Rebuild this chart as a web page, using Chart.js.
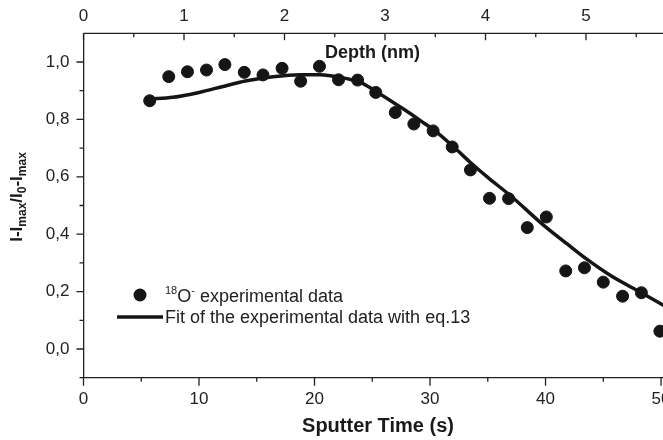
<!DOCTYPE html>
<html lang="en">

<head>
    <meta charset="UTF-8">
    <script src="https://cdn.jsdelivr.net/npm/chart.js"></script>
    <style>
        body { margin: 0; background: #fff; }
    </style>
</head>

<body>
    <canvas id="depthChart" width="663" height="440"></canvas>

    <script>
        // measured points (sputter time in s, normalised intensity)
        const timeData = [5.73, 7.38, 9.0, 10.65, 12.24, 13.92, 15.54, 17.19, 18.8, 20.43, 22.08, 23.73, 25.3, 26.99,
            28.6, 30.27, 31.92, 33.5, 35.15, 36.8, 38.42, 40.07, 41.75, 43.37, 45.0, 46.67, 48.3, 49.9];
        const o18Data = [0.865, 0.949, 0.966, 0.972, 0.991, 0.964, 0.955, 0.978, 0.933, 0.985, 0.938, 0.937, 0.894, 0.824,
            0.784, 0.760, 0.704, 0.624, 0.525, 0.524, 0.423, 0.460, 0.272, 0.283, 0.233, 0.184, 0.196, 0.062];

        // fit curve (eq.13)
        const fitTime = [5.73, 7.75, 10, 12, 14, 16.4, 18.75, 20.5, 22.2, 24, 25.7, 27.7, 29.2, 30.6, 32.1, 33.5, 35,
            37, 39.9, 41.9, 43.6, 45.7, 48.3, 50.3];
        const fitValue = [0.871, 0.877, 0.894, 0.914, 0.934, 0.949, 0.956, 0.956, 0.947, 0.928, 0.888, 0.836, 0.795,
            0.755, 0.702, 0.650, 0.598, 0.533, 0.429, 0.365, 0.312, 0.254, 0.196, 0.150];

        const timeTicks = [0, 10, 20, 30, 40, 50];
        const timeMinor = [5, 15, 25, 35, 45];
        const depthTicks = [0, 1, 2, 3, 4, 5];
        const depthMinor = [0.5, 1.5, 2.5, 3.5, 4.5, 5.5];
        const yTicks = [0, 0.2, 0.4, 0.6, 0.8, 1.0];
        const yMinor = [-0.1, 0.1, 0.3, 0.5, 0.7, 0.9];

        const FONT = "'Liberation Sans', Arial, sans-serif";
        const INK = '#151515';
        Chart.defaults.font.family = FONT;
        Chart.defaults.color = '#222';

        // tick marks, top frame line, axis titles and the legend are drawn by hand
        const decorations = {
            id: 'decorations',
            afterDraw(chart) {
                const c = chart.ctx;
                const a = chart.chartArea;
                const sx = chart.scales.x, st = chart.scales.xTop, sy = chart.scales.y;
                c.save();
                c.strokeStyle = '#222';
                c.lineWidth = 1.3;
                c.beginPath();
                c.moveTo(a.left, a.top);
                c.lineTo(a.right, a.top);
                timeTicks.forEach(v => { const p = sx.getPixelForValue(v); c.moveTo(p, a.bottom); c.lineTo(p, a.bottom + 8); });
                timeMinor.forEach(v => { const p = sx.getPixelForValue(v); c.moveTo(p, a.bottom); c.lineTo(p, a.bottom + 4); });
                depthTicks.forEach(v => { const p = st.getPixelForValue(v); c.moveTo(p, a.top); c.lineTo(p, a.top + 7); });
                depthMinor.forEach(v => { const p = st.getPixelForValue(v); c.moveTo(p, a.top); c.lineTo(p, a.top + 4); });
                yTicks.forEach(v => { const p = sy.getPixelForValue(v); c.moveTo(a.left, p); c.lineTo(a.left - 7, p); });
                yMinor.forEach(v => { const p = sy.getPixelForValue(v); c.moveTo(a.left, p); c.lineTo(a.left - 4, p); });
                c.stroke();

                c.fillStyle = '#1a1a1a';
                c.textBaseline = 'middle';

                // bottom title
                c.font = 'bold 20px ' + FONT;
                c.textAlign = 'center';
                c.fillText('Sputter Time (s)', 378, 426);

                // top axis title inside the plot
                c.font = 'bold 18px ' + FONT;
                c.textAlign = 'left';
                c.fillText('Depth (nm)', 325, 53);

                // y title with subscripts
                const parts = [['I-I', 0], ['max', 1], ['/I', 0], ['0', 1], ['-I', 0], ['max', 1]];
                const big = 'bold 17px ' + FONT, small = 'bold 12px ' + FONT;
                let total = 0;
                parts.forEach(p => { c.font = p[1] ? small : big; total += c.measureText(p[0]).width; });
                c.translate(17, 197);
                c.rotate(-Math.PI / 2);
                c.textBaseline = 'alphabetic';
                let x = -total / 2;
                parts.forEach(p => {
                    c.font = p[1] ? small : big;
                    c.fillText(p[0], x, p[1] ? 9 : 5);
                    x += c.measureText(p[0]).width;
                });
                c.setTransform(1, 0, 0, 1, 0, 0);

                // legend
                c.fillStyle = INK;
                c.beginPath();
                c.arc(140, 295, 6.5, 0, Math.PI * 2);
                c.fill();
                c.strokeStyle = INK;
                c.lineWidth = 3.5;
                c.beginPath();
                c.moveTo(117, 317);
                c.lineTo(163, 317);
                c.stroke();

                c.fillStyle = '#222';
                c.textBaseline = 'alphabetic';
                c.font = '11px ' + FONT;
                c.fillText('18', 165, 294);
                let lx = 165 + c.measureText('18').width;
                c.font = '18px ' + FONT;
                c.fillText('O', lx, 301.5);
                lx += c.measureText('O').width;
                c.font = '11px ' + FONT;
                c.fillText('-', lx, 294);
                lx += c.measureText('-').width;
                c.font = '18px ' + FONT;
                c.fillText(' experimental data', lx, 301.5);
                c.fillText('Fit of the experimental data with eq.13', 165, 323);
                c.restore();
            }
        };

        const setTicks = list => scale => { scale.ticks = list.map(v => ({ value: v })); };
        const noPad = size => s => {
            if (s.isHorizontal()) s.height = size; else s.width = size;
            s.paddingLeft = 0; s.paddingRight = 0; s.paddingTop = 0; s.paddingBottom = 0;
        };

        new Chart(document.getElementById('depthChart'), {
            type: 'scatter',
            data: {
                datasets: [{
                    label: 'Fit',
                    type: 'line',
                    data: fitTime.map((t, i) => ({ x: t, y: fitValue[i] })),
                    borderColor: INK,
                    borderWidth: 3.5,
                    pointRadius: 0,
                    cubicInterpolationMode: 'monotone',
                    fill: false,
                    order: 2
                }, {
                    label: '18O- experimental data',
                    data: timeData.map((t, i) => ({ x: t, y: o18Data[i] })),
                    backgroundColor: INK,
                    borderColor: INK,
                    pointRadius: 6,
                    borderWidth: 1,
                    clip: false,
                    order: 1
                }]
            },
            options: {
                responsive: false,
                animation: false,
                devicePixelRatio: 1,
                layout: { padding: 0, autoPadding: false },
                plugins: { legend: { display: false }, tooltip: { enabled: false } },
                scales: {
                    x: {
                        type: 'linear', position: 'bottom', min: 0, max: 50.17,
                        afterBuildTicks: setTicks(timeTicks),
                        afterFit: noPad(62.3),
                        grid: { display: false, drawTicks: false },
                        border: { color: '#222', width: 1.3 },
                        ticks: { padding: 11, font: { size: 17 }, maxRotation: 0, autoSkip: false }
                    },
                    xTop: {
                        type: 'linear', position: 'top', min: 0, max: 5.766,
                        afterBuildTicks: setTicks(depthTicks),
                        afterFit: noPad(33.3),
                        grid: { display: false, drawTicks: false },
                        border: { display: false },
                        ticks: { padding: 7, font: { size: 17 }, maxRotation: 0, autoSkip: false }
                    },
                    y: {
                        type: 'linear', min: -0.1, max: 1.1,
                        afterBuildTicks: setTicks(yTicks),
                        afterFit: noPad(83.5),
                        grid: { display: false, drawTicks: false },
                        border: { color: '#222', width: 1.3 },
                        ticks: {
                            padding: 14, font: { size: 17 },
                            callback: v => v.toFixed(1).replace('.', ',')
                        }
                    }
                }
            },
            plugins: [decorations]
        });
    </script>
</body>

</html>
